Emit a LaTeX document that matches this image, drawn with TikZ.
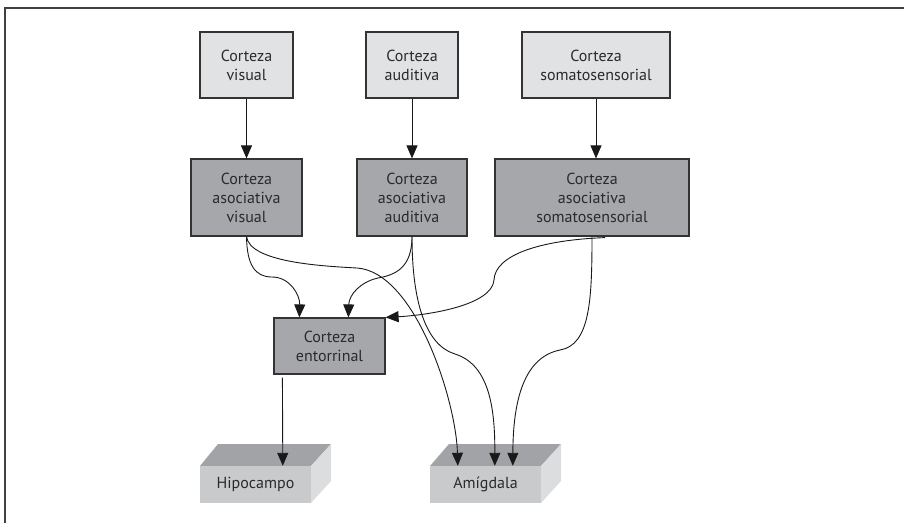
\documentclass[tikz,border=0pt]{standalone}
\usepackage{fontspec}
\setmainfont{PT Sans}
\usetikzlibrary{arrows.meta,calc}
\definecolor{lightbox}{HTML}{E1E2E4}
\definecolor{darkbox}{HTML}{A6A7AA}
\definecolor{edgecol}{HTML}{333333}
\definecolor{txtcol}{HTML}{2A2A2A}
\definecolor{topface}{HTML}{A2A3A6}
\definecolor{frontface}{HTML}{C9CACC}
\definecolor{sideface}{HTML}{DCDDDF}
\begin{document}
\begin{tikzpicture}[x=1pt,y=-1pt,
  every node/.style={font=\fontsize{16}{19}\selectfont, text=txtcol, align=center, inner sep=0pt},
  lbox/.style={draw=edgecol, line width=1.2pt, fill=lightbox},
  dbox/.style={draw=edgecol, line width=1.2pt, fill=darkbox},
  conn/.style={draw=black!90, line width=0.9pt, -{Triangle[length=13pt,width=11pt]}},
  plainface/.style={minimum width=111pt, minimum height=37pt}
]
\useasboundingbox (0,0) rectangle (904,523);
% partial frame
\draw[line width=1.4pt, draw=black!75] (5,523) -- (5,8) -- (904,8);

% top row
\node[lbox, minimum width=93pt, minimum height=66pt] (cv) at (246.5,65) {Corteza\\visual};
\node[lbox, minimum width=92pt, minimum height=66pt] (ca) at (412,65) {Corteza\\auditiva};
\node[lbox, minimum width=148pt, minimum height=66pt] (cs) at (596,65) {Corteza\\somatosensorial};

% association row
\node[dbox, minimum width=111pt, minimum height=77pt] (av) at (246.5,197.5) {Corteza\\asociativa\\visual};
\node[dbox, minimum width=110pt, minimum height=77pt] (aa) at (412,197.5) {Corteza\\asociativa\\auditiva};
\node[dbox, minimum width=194pt, minimum height=77pt] (as) at (592,197.5) {Corteza\\asociativa\\somatosensorial};

% entorhinal
\node[dbox, minimum width=111pt, minimum height=56pt] (ent) at (329.5,346) {Corteza\\entorrinal};

% 3D boxes
\fill[topface] (200,466) -- (218,444) -- (331,444) -- (311,466) -- cycle;
\fill[sideface] (311,466) -- (331,444) -- (331,481) -- (311,503) -- cycle;
\node[plainface, fill=frontface] (hip) at (255.5,484.5) {Hipocampo};

\fill[topface] (430,466) -- (449,444) -- (561,444) -- (541,466) -- cycle;
\fill[sideface] (541,466) -- (561,444) -- (561,481) -- (541,503) -- cycle;
\node[plainface, fill=frontface] (amy) at (485.5,484.5) {Amígdala};

% target points
\coordinate (entA) at ($(ent.north west)+(26,0)$);
\coordinate (entB) at ($(ent.north west)+(75,0)$);
\coordinate (entS) at ($(ent.south west)+(9,3)$);
\coordinate (hipT) at ($(hip.north west)+(83,0)$);
\coordinate (amyA) at ($(amy.north west)+(28,0)$);
\coordinate (amyB) at ($(amy.north west)+(65,0)$);
\coordinate (amyC) at ($(amy.north west)+(83,0)$);
\coordinate (asA) at ($(as.south)+(13,1)$);

% straight arrows
\draw[conn] (cv.south) -- (av.north);
\draw[conn] (ca.south) -- (aa.north);
\draw[conn] (cs.south) -- (cs.south |- as.north);
\draw[conn] (entS) -- (hipT);

% curved connections
\draw[conn] (av.south) .. controls (247,265) and (255,277) .. (272,277)
  .. controls (290,277) and (300,295) .. (entA);
\draw[conn] (av.south) .. controls (250,262) and (320,266) .. (357,268)
  .. controls (415,272) and (456,400) .. (amyA);
\draw[conn] (aa.south) .. controls (412,268) and (395,275) .. (378,278)
  .. controls (360,282) and (349,295) .. (entB);
\draw[conn] (aa.south) .. controls (412,300) and (425,345) .. (455,354)
  .. controls (490,365) and (495,410) .. (amyB);
\draw[conn] (asA) .. controls (540,240) and (495,255) .. (494,280)
  .. controls (492,305) and (430,315) .. (ent.north east);
\draw[conn] (as.south) .. controls (592,300) and (590,345) .. (560,350)
  .. controls (520,358) and (513,410) .. (amyC);
\end{tikzpicture}
\end{document}
